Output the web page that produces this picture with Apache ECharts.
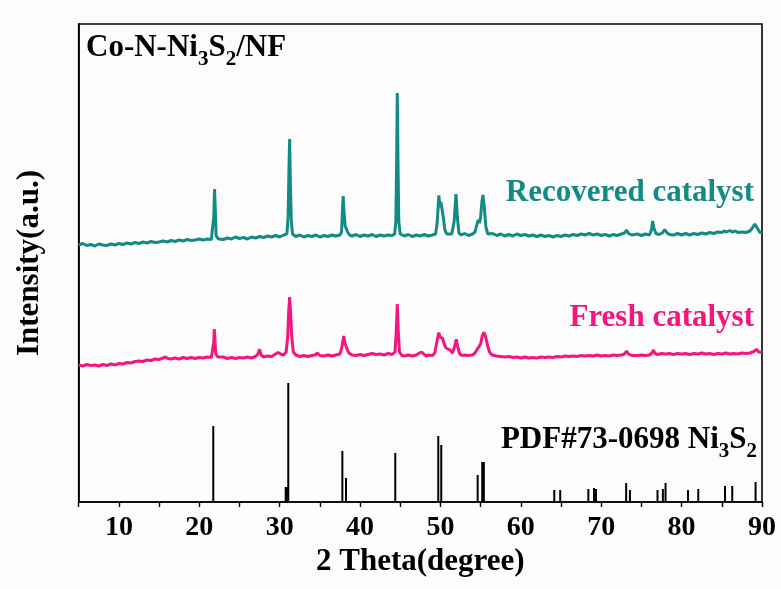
<!DOCTYPE html>
<html>
<head>
<meta charset="utf-8">
<script src="https://cdn.jsdelivr.net/npm/echarts@6/dist/echarts.min.js"></script>
<style>
  html, body { margin: 0; padding: 0; background: #fcfcfc; }
  #chart { width: 781px; height: 589px; }
</style>
</head>
<body>
<div id="chart"></div>
<script>
// XRD patterns of Co-N-Ni3S2/NF: [2θ (degree), intensity (a.u., offset per curve)]
const recovered = [
  [5.0,257],[5.5,258.5],[6.0,256.5],[6.5,257.5],[7.0,256],[7.5,258],[8.0,257],[8.5,256.5],[9.0,258],[9.5,257],
  [10.0,258.5],[10.5,257.5],[11.0,259],[11.5,258],[12.0,259.5],[12.5,258.5],[13.0,260],[13.5,259],[14.0,260.5],[14.5,259.5],
  [15.0,260],[15.5,261],[16.0,260],[16.5,261.5],[17.0,260.5],[17.5,262],[18.0,261],[18.5,262.5],[19.0,261.5],[19.5,262],
  [20.0,263],[20.5,262],[21.0,263],[21.5,262.5],[21.7,264],[21.8,285],[21.9,313],[22.0,290],[22.1,266],[22.4,263],
  [22.5,264],[23.0,262.5],[23.5,264],[24.0,263],[24.5,265],[25.0,263.5],[25.5,264.5],[26.0,263],[26.5,265],[27.0,264],
  [27.5,265.5],[28.0,264.5],[28.5,266],[29.0,265],[29.5,266.5],[30.0,265],[30.5,267],[30.9,268],[31.05,285],[31.15,330],
  [31.24,363],[31.33,320],[31.45,280],[31.6,268],[31.8,266],[32.0,265.5],[32.5,267],[33.0,265],[33.5,266.5],[34.0,265.5],
  [34.5,267],[35.0,265],[35.5,266.5],[36.0,265.5],[36.5,267],[37.0,266],[37.5,267],[37.7,270],[37.8,290],[37.9,306],
  [38.0,290],[38.15,276],[38.3,277],[38.45,270],[38.7,267],[39.0,266],[39.5,267.5],[40.0,265.5],[40.5,267],[41.0,266],
  [41.5,267.5],[42.0,265.5],[42.5,267],[43.0,266],[43.5,267],[44.0,266.5],[44.3,268],[44.45,280],[44.55,340],[44.63,409],
  [44.72,340],[44.82,280],[45.0,268],[45.5,266],[46.0,267.5],[46.5,265.5],[47.0,267],[47.5,266],[48.0,267.5],[48.5,266],
  [49.0,267],[49.4,268],[49.6,280],[49.8,306.7],[49.95,295],[50.05,300],[50.2,299],[50.35,285],[50.55,272],[50.8,268],
  [51.0,267],[51.4,268],[51.7,280],[51.93,308],[52.1,285],[52.3,269],[52.6,267],[53.0,268.5],[53.5,266.5],[54.0,268],
  [54.3,270],[54.55,278],[54.7,282],[54.85,279],[55.0,285],[55.15,300],[55.28,307],[55.45,295],[55.65,275],[55.9,268],
  [56.0,267],[56.5,268.5],[57.0,266.5],[57.5,268],[58.0,266],[58.5,267.5],[59.0,266],[59.5,268],[60.0,266.5],[60.5,267.5],
  [61.0,266],[61.5,267],[62.0,265.5],[62.5,267],[63.0,265.5],[63.5,266.5],[64.0,265],[64.5,266.5],[65.0,265.5],[65.5,267],
  [66.0,266],[66.5,267.5],[67.0,266.5],[67.5,268],[68.0,267],[68.5,268.5],[69.0,267],[69.5,268],[70.0,266.5],[70.5,267.5],
  [71.0,266],[71.5,267.5],[72.0,266.5],[72.5,268],[72.9,269],[73.15,272],[73.4,268.5],[73.8,267],[74.0,266.5],[74.5,268],
  [75.0,266.5],[75.5,268],[76.0,267],[76.25,272],[76.4,281],[76.55,274],[76.8,268.5],[77.2,267.5],[77.6,269],[77.9,272.5],
  [78.2,269],[78.5,267.5],[79.0,267],[79.5,268.5],[80.0,267],[80.5,268.5],[81.0,267],[81.5,268.5],[82.0,267.5],[82.5,269],
  [83.0,268],[83.5,269.5],[84.0,268.5],[84.5,270],[85.0,269.5],[85.3,271],[85.6,270],[86.0,271.5],[86.3,270],[86.7,271],
  [87.0,269.5],[87.5,270],[88.0,269.5],[88.5,271],[88.8,274],[89.1,278],[89.4,274],[89.7,270],[90.0,269]
];

const fresh = [
  [5.0,137],[5.5,136],[6.0,137.5],[6.5,136.5],[7.0,137],[7.5,136],[8.0,137.5],[8.5,136.5],[9.0,138],[9.5,137],
  [10.0,138.5],[10.5,138],[11.0,139.5],[11.5,139],[12.0,140.5],[12.5,141],[13.0,140.5],[13.5,142],[14.0,141.5],[14.5,143],
  [15.0,142.5],[15.5,144],[15.8,145],[16.1,143.5],[16.5,143],[17.0,144],[17.5,143],[18.0,144.5],[18.5,143.5],[19.0,144.5],
  [19.5,143.5],[20.0,144.5],[20.5,144],[21.0,145],[21.5,144.5],[21.7,146],[21.8,160],[21.87,173],[21.95,162],[22.05,148],
  [22.3,145],[22.5,144],[23.0,145],[23.5,143.5],[24.0,144.5],[24.5,143.5],[25.0,144.5],[25.5,144],[26.0,145],[26.5,144],
  [27.0,145.5],[27.3,148],[27.5,152.7],[27.7,147],[28.0,145],[28.5,146],[29.0,145.5],[29.5,148],[29.8,149.5],[30.1,148],
  [30.5,147],[30.8,150],[31.0,165],[31.12,190],[31.24,205],[31.36,190],[31.5,165],[31.7,150],[32.0,147],[32.5,145.5],
  [33.0,146.5],[33.5,145.5],[34.0,146.5],[34.4,147],[34.7,149],[35.0,146.5],[35.5,146],[36.0,147],[36.5,146],[37.0,147],
  [37.5,148],[37.75,155],[37.96,166],[38.15,158],[38.4,152.7],[38.6,149],[39.0,147],[39.5,146.5],[40.0,147.5],[40.5,146.5],
  [41.0,147.5],[41.5,148.5],[42.0,147.5],[42.5,148],[43.0,147],[43.5,148.5],[44.0,147.5],[44.35,150],[44.5,170],[44.63,198],
  [44.76,170],[44.9,150],[45.2,146.5],[45.5,146],[46.0,147],[46.5,146],[47.0,147],[47.4,149],[47.66,150],[47.9,148],
  [48.2,146],[48.5,147],[49.0,146.5],[49.3,149],[49.55,160],[49.78,169.3],[49.95,165],[50.1,164],[50.27,163.7],[50.45,158],
  [50.7,154],[50.9,153.7],[51.2,152],[51.5,149],[51.75,155],[51.97,162.7],[52.15,155],[52.4,148],[52.7,146.5],[53.0,147],
  [53.5,146.5],[54.0,147],[54.3,149],[54.6,153],[54.75,153.7],[55.0,158],[55.2,166],[55.4,169.7],[55.6,166],[55.85,157],
  [56.1,150],[56.4,147],[57.0,146],[57.5,145.5],[58.0,145],[58.5,145.5],[59.0,144.5],[59.5,145],[60.0,144],[60.5,145],
  [61.0,144],[61.5,144.5],[62.0,144],[62.5,145],[63.0,144.5],[63.5,145],[64.0,144.5],[64.5,145.5],[65.0,145],[65.5,146],
  [66.0,145.5],[66.5,146],[67.0,145.5],[67.5,146.5],[68.0,146],[68.5,146.5],[69.0,146],[69.5,147],[70.0,146],[70.5,146.5],
  [71.0,146],[71.5,147],[72.0,146.5],[72.5,147],[72.9,148],[73.15,151],[73.4,148],[73.8,146.5],[74.0,147],[74.5,146.5],
  [75.0,147],[75.5,146.5],[76.0,147],[76.3,149],[76.47,152],[76.7,148.5],[77.0,147.5],[77.5,148.5],[78.0,148],[78.5,148.5],
  [79.0,147.5],[79.5,148.5],[80.0,148],[80.5,148.5],[81.0,147.5],[81.5,148.5],[82.0,148],[82.5,149],[83.0,148],[83.5,148.5],
  [84.0,147.5],[84.5,148.5],[85.0,148],[85.5,149],[86.0,148],[86.5,148.5],[87.0,148],[87.5,149],[88.0,148.5],[88.5,149],
  [89.0,150.5],[89.3,152.7],[89.6,150],[90.0,149.5]
];

// Reference pattern PDF#73-0698 (Ni3S2): [2θ, relative intensity]
const pdfLines = [
  [21.74,76],[30.75,15],[30.9,15],[31.07,119],[37.8,51],[38.25,24],[44.38,49],[49.73,66],[50.1,57],
  [54.63,27],[55.2,40],[55.4,40],[64.16,12],[64.9,12],[68.4,13],[69.1,14],[69.35,13],[73.1,19],[73.57,12],
  [77.0,12],[77.67,13],[78.0,19],[80.8,12],[82.07,13],[85.4,16],[86.3,16],[89.2,20]
];

const xRange = [5, 90];
const xTickStep = 5;
const xLabelStep = 10;

const serif = "'Liberation Serif', 'Times New Roman', serif";
const teal = '#138a83';
const pink = '#f4157f';

const chart = echarts.init(document.getElementById('chart'), null, { renderer: 'canvas' });

// main text raised by bottom padding so the small digits sit below its baseline
const subRich = (color) => ({
  m: { fontFamily: serif, fontWeight: 'bold', fontSize: 31, lineHeight: 36, color, verticalAlign: 'bottom', padding: [0, 0, 7, 0] },
  s: { fontFamily: serif, fontWeight: 'bold', fontSize: 21, lineHeight: 21, color, verticalAlign: 'bottom' }
});

chart.setOption({
  animation: false,
  backgroundColor: '#fcfcfc',
  grid: {
    left: 78.7, right: 19, top: 24, bottom: 87,
    show: true, borderColor: '#000', borderWidth: 1.6, backgroundColor: 'transparent'
  },
  xAxis: {
    type: 'value',
    min: xRange[0], max: xRange[1], interval: xTickStep,
    name: '2 Theta(degree)',
    nameLocation: 'middle',
    nameGap: 44,
    nameTextStyle: { fontFamily: serif, fontWeight: 'bold', fontSize: 31, color: '#000' },
    axisLine: { show: true, onZero: false, lineStyle: { color: '#000', width: 1.6 } },
    axisTick: { show: true, length: 5, lineStyle: { color: '#000', width: 1.4 } },
    axisLabel: {
      margin: 12,
      fontFamily: serif, fontWeight: 'bold', fontSize: 28, color: '#000',
      showMinLabel: true, showMaxLabel: true,
      formatter: (v) => (v % xLabelStep === 0 ? String(v) : '')
    },
    splitLine: { show: false }
  },
  yAxis: {
    type: 'value',
    min: 0, max: 478,
    name: 'Intensity(a.u.)',
    nameLocation: 'middle',
    nameGap: 33,
    nameRotate: 90,
    nameTextStyle: { fontFamily: serif, fontWeight: 'bold', fontSize: 31, color: '#000' },
    axisLine: { show: true, lineStyle: { color: '#000', width: 1.6 } },
    axisTick: { show: false },
    axisLabel: { show: false },
    splitLine: { show: false }
  },
  series: [
    {
      name: 'Recovered catalyst',
      type: 'line',
      data: recovered,
      showSymbol: false,
      lineStyle: { color: teal, width: 3 },
      z: 3
    },
    {
      name: 'Fresh catalyst',
      type: 'line',
      data: fresh,
      showSymbol: false,
      lineStyle: { color: pink, width: 3 },
      z: 3
    },
    {
      name: 'PDF#73-0698 Ni3S2',
      type: 'bar',
      data: pdfLines,
      barWidth: 2,
      itemStyle: { color: '#000' },
      z: 2
    }
  ],
  graphic: [
    {
      type: 'text', x: 86, y: 70,
      style: {
        text: '{m|Co-N-Ni}{s|3}{m|S}{s|2}{m|/NF}',
        rich: subRich('#000'),
        align: 'left', verticalAlign: 'bottom'
      }
    },
    {
      type: 'text', x: 754, y: 208,
      style: {
        text: 'Recovered catalyst',
        fontFamily: serif, fontWeight: 'bold', fontSize: 31, fill: teal,
        align: 'right', verticalAlign: 'bottom'
      }
    },
    {
      type: 'text', x: 754, y: 333,
      style: {
        text: 'Fresh catalyst',
        fontFamily: serif, fontWeight: 'bold', fontSize: 31, fill: pink,
        align: 'right', verticalAlign: 'bottom'
      }
    },
    {
      type: 'text', x: 757, y: 462,
      style: {
        text: '{m|PDF#73-0698 Ni}{s|3}{m|S}{s|2}',
        rich: subRich('#000'),
        align: 'right', verticalAlign: 'bottom'
      }
    }
  ]
});
</script>
</body>
</html>
